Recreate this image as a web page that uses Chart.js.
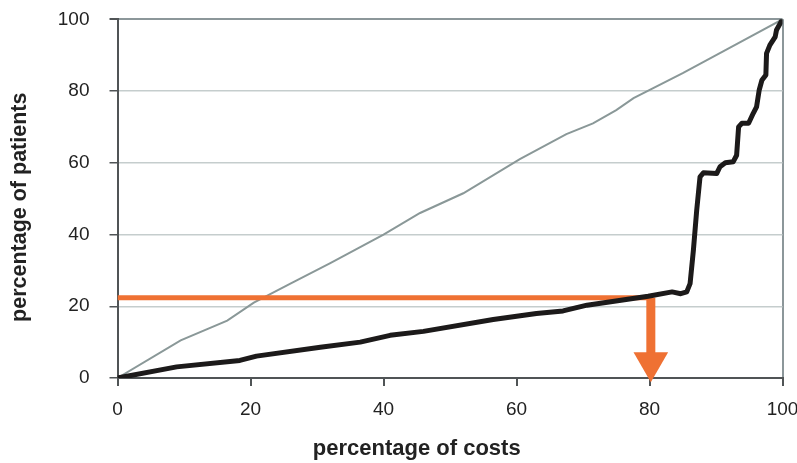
<!DOCTYPE html>
<html>
<head>
<meta charset="utf-8">
<script src="https://cdn.jsdelivr.net/npm/chart.js@4"></script>
<style>
  html, body { margin: 0; padding: 0; background: #ffffff; overflow: hidden; }
  #wrap { width: 797px; height: 463px; }
  canvas { display: block; }
</style>
</head>
<body>
<div id="wrap"><canvas id="c"></canvas></div>
<script>
// Black curve: cumulative percentage of patients vs percentage of costs
const costPct    = [0, 8.9, 18.4, 20.9, 30.5, 36.5, 41, 46, 56.5, 63, 67, 70.6, 79.8, 83.4, 84.7, 85.6, 86.1, 86.6, 87.1, 87.6, 88.1, 90.1, 90.6, 91.4, 92.6, 93.1, 93.4, 93.9, 94.9, 95.6, 96.1, 96.5, 96.9, 97.5, 97.6, 98.1, 98.9, 99.1, 100];
const patientPct = [0, 3.1, 4.9, 6.1, 8.6, 10, 11.9, 13, 16.3, 18, 18.7, 20.3, 22.8, 24, 23.5, 24, 26.3, 35.6, 46.8, 56.1, 57.2, 57, 58.9, 60, 60.3, 62.1, 70, 71, 71, 73.8, 75.6, 80.3, 83, 84.5, 90.5, 92.8, 95.1, 97, 100];
// Grey reference (near-diagonal) line
const diagX = [0, 9.5, 16.5, 20.5, 26, 32, 40, 45.5, 52, 60.5, 67.5, 71.5, 75, 77.6, 85, 91, 100];
const diagY = [0, 10.5, 16, 21, 26.3, 32, 40, 46, 51.5, 61, 68, 71, 74.7, 78, 85, 91, 100];
// Orange marker: horizontal at ~22.4 % of patients to 80 % of costs, then arrow down
const markX = [0, 80.2];
const markY = [22.4, 22.4];
const arrowX = [80.2, 80.2];
const arrowY = [22.4, 4.4];
// Axis ticks and titles
const xTicks = [0, 20, 40, 60, 80, 100];
const yTicks = [0, 20, 40, 60, 80, 100];
const xTitle = 'percentage of costs';
const yTitle = 'percentage of patients';

const pts = (xs, ys) => xs.map((x, i) => ({ x: x, y: ys[i] }));

const orange = '#ef7133';
const axisCol = '#505456';
const borderCol = '#8c979a';
const fam = 'Liberation Sans, Arial, sans-serif';

// Axis titles drawn as canvas text, placed relative to the chart area
const axisTitles = {
  id: 'axisTitles',
  afterDraw(chart) {
    const { ctx, chartArea } = chart;
    ctx.save();
    ctx.fillStyle = '#222';
    ctx.textAlign = 'center';
    ctx.textBaseline = 'alphabetic';
    ctx.font = 'bold 22px ' + fam;
    const cx = chartArea.left + (chartArea.right - chartArea.left) * 0.45;
    ctx.fillText(xTitle, cx, chartArea.bottom + 77);
    ctx.font = 'bold 21.5px ' + fam;
    const cy = chartArea.top + (chartArea.bottom - chartArea.top) * 0.524;
    ctx.translate(26, cy);
    ctx.rotate(-Math.PI / 2);
    ctx.fillText(yTitle, 0, 0);
    ctx.restore();
  }
};

new Chart(document.getElementById('c'), {
  type: 'scatter',
  plugins: [axisTitles],
  data: {
    datasets: [
      {
        label: 'diagonal',
        data: pts(diagX, diagY),
        showLine: true,
        borderColor: '#8a9898',
        borderWidth: 2,
        pointRadius: 0,
        tension: 0,
        order: 3
      },
      {
        label: 'marker',
        data: pts(markX, markY),
        showLine: true,
        borderColor: orange,
        borderWidth: 5,
        pointRadius: 0,
        borderCapStyle: 'butt',
        order: 2
      },
      {
        label: 'arrow',
        data: pts(arrowX, arrowY),
        showLine: true,
        borderColor: orange,
        backgroundColor: orange,
        borderWidth: 9,
        borderCapStyle: 'butt',
        pointRadius: [0, 20],
        pointStyle: 'triangle',
        rotation: 180,
        pointBorderWidth: 0,
        clip: false,
        order: 2
      },
      {
        label: 'patients',
        data: pts(costPct, patientPct),
        showLine: true,
        borderColor: '#1c1a1a',
        borderWidth: 5,
        pointRadius: 0,
        borderJoinStyle: 'round',
        borderCapStyle: 'round',
        tension: 0,
        order: 1
      }
    ]
  },
  options: {
    responsive: true,
    maintainAspectRatio: false,
    animation: false,
    layout: { padding: 0, autoPadding: false },
    plugins: { legend: { display: false }, tooltip: { enabled: false } },
    scales: {
      x: {
        type: 'linear',
        min: 0, max: 100,
        afterBuildTicks: (s) => { s.ticks = xTicks.map(v => ({ value: v })); },
        afterFit: (s) => {
          s.height = 85;
          s.paddingLeft = 0; s.paddingRight = 14.5; s.paddingTop = 0; s.paddingBottom = 0;
        },
        border: { display: true, color: axisCol, width: 2 },
        grid: {
          display: true,
          drawOnChartArea: true,
          color: (ctx) => (ctx.tick && ctx.tick.value === 100) ? borderCol : 'rgba(0,0,0,0)',
          lineWidth: 2,
          tickColor: axisCol,
          tickLength: 8
        },
        ticks: {
          color: '#222',
          font: { family: fam, size: 19 },
          padding: 12,
          maxRotation: 0
        },
        title: { display: false }
      },
      y: {
        type: 'linear',
        min: 0, max: 100,
        afterBuildTicks: (s) => { s.ticks = yTicks.map(v => ({ value: v })); },
        afterFit: (s) => {
          s.width = 117.5;
          s.paddingTop = 19.3; s.paddingBottom = 0; s.paddingLeft = 0; s.paddingRight = 0;
        },
        border: { display: true, color: axisCol, width: 2 },
        grid: {
          color: (ctx) => (ctx.tick && ctx.tick.value === 100) ? borderCol : '#c5cdcd',
          lineWidth: (ctx) => (ctx.tick && ctx.tick.value === 100) ? 2 : 1.5,
          tickColor: axisCol,
          tickLength: 8
        },
        ticks: {
          color: '#222',
          font: { family: fam, size: 19 },
          padding: 20
        },
        title: { display: false }
      }
    }
  }
});
</script>
</body>
</html>
